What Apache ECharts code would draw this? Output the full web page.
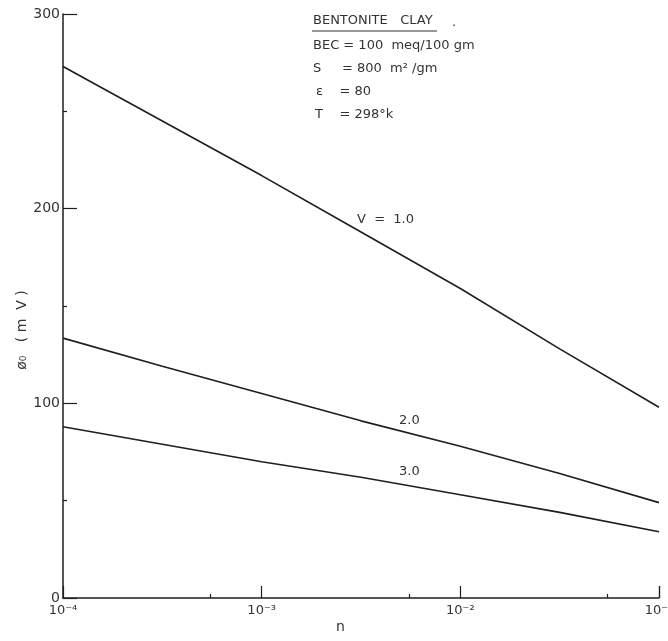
<!DOCTYPE html>
<html>
<head>
<meta charset="utf-8">
<script src="https://cdn.jsdelivr.net/npm/echarts@6/dist/echarts.min.js"></script>
<style>
html,body{margin:0;padding:0;background:#fff;}
#c{width:668px;height:641px;}
</style>
</head>
<body>
<div id="c"></div>
<script>
// Data
var nValues = [1e-4, 3.162e-4, 1e-3, 3.162e-3, 1e-2, 3.162e-2, 1e-1];
var phiV1 = [273, 245, 217, 188, 159, 128, 98];
var phiV2 = [133.5, 119, 105, 91, 78, 64, 49];
var phiV3 = [88, 79, 70, 62, 53, 44, 34];
var xTickLabels = {'-4': '10⁻⁴', '-3': '10⁻³', '-2': '10⁻²', '-1': '10⁻¹'};
var yTicks = [0, 100, 200, 300];

function pairs(ys) { return nValues.map(function (n, i) { return [n, ys[i]]; }); }

var ink = '#1e1e1e';
var font = 'DejaVu Sans';
var chart = echarts.init(document.getElementById('c'));

var lineStyle = { color: ink, width: 1.6 };

chart.setOption({
  animation: false,
  backgroundColor: '#ffffff',
  grid: { left: 63, right: 9, top: 14, bottom: 43, containLabel: false, outerBoundsMode: 'none' },
  xAxis: {
    type: 'log', logBase: 10, min: 1e-4, max: 1e-1,
    axisLine: { show: true, lineStyle: { color: ink, width: 1.5 } },
    axisTick: { show: true, inside: true, length: 12, lineStyle: { color: ink, width: 1.2 } },
    minorTick: { show: true, splitNumber: 2, length: 4, lineStyle: { color: ink, width: 1.2 } },
    splitLine: { show: false },
    minorSplitLine: { show: false },
    axisLabel: {
      color: '#333', fontFamily: font, fontSize: 13, margin: 6,
      hideOverlap: false, showMinLabel: true, showMaxLabel: true,
      formatter: function (v) {
        var k = Math.round(Math.log10(v));
        return xTickLabels[String(k)] || '';
      }
    }
  },
  yAxis: {
    type: 'value', min: 0, max: 300, interval: 100,
    axisLine: { show: true, lineStyle: { color: ink, width: 1.5 } },
    axisTick: { show: true, inside: true, length: 14, lineStyle: { color: ink, width: 1.2 } },
    minorTick: { show: true, splitNumber: 2, length: 4, lineStyle: { color: ink, width: 1.2 } },
    splitLine: { show: false },
    axisLabel: {
      color: '#333', fontFamily: font, fontSize: 14, margin: 3,
      formatter: function (v) { return yTicks.indexOf(v) >= 0 ? String(v) : ''; }
    }
  },
  series: [
    { type: 'line', data: pairs(phiV1), showSymbol: false, smooth: false, lineStyle: lineStyle },
    { type: 'line', data: pairs(phiV2), showSymbol: false, smooth: false, lineStyle: lineStyle },
    { type: 'line', data: pairs(phiV3), showSymbol: false, smooth: false, lineStyle: lineStyle }
  ],
  graphic: [
    { type: 'text', left: 313, top: 14, style: { text: 'BENTONITE   CLAY', font: '13px ' + font, fill: '#333' } },
    { type: 'line', shape: { x1: 312, y1: 31, x2: 437, y2: 31 }, style: { stroke: '#333', lineWidth: 1 } },
    { type: 'text', left: 452, top: 16, style: { text: '.', font: '13px ' + font, fill: '#333' } },
    { type: 'text', left: 313, top: 39, style: { text: 'BEC = 100  meq/100 gm', font: '13px ' + font, fill: '#333' } },
    { type: 'text', left: 313, top: 62, style: { text: 'S     = 800  m² /gm', font: '13px ' + font, fill: '#333' } },
    { type: 'text', left: 316, top: 85, style: { text: 'ε    = 80', font: '13px ' + font, fill: '#333' } },
    { type: 'text', left: 315, top: 108, style: { text: 'T    = 298°k', font: '13px ' + font, fill: '#333' } },
    { type: 'text', left: 357, top: 213, style: { text: 'V  =  1.0', font: '13px ' + font, fill: '#333' } },
    { type: 'text', left: 399, top: 414, style: { text: '2.0', font: '13px ' + font, fill: '#333' } },
    { type: 'text', left: 399, top: 465, style: { text: '3.0', font: '13px ' + font, fill: '#333' } },
    { type: 'text', x: 22, y: 330, rotation: Math.PI / 2, style: { text: 'ø₀   ( m  V )', font: '14px ' + font, fill: '#333', align: 'center', verticalAlign: 'middle' } },
    { type: 'text', left: 336, top: 620, style: { text: 'n', font: '14px ' + font, fill: '#333' } }
  ]
});
</script>
</body>
</html>
